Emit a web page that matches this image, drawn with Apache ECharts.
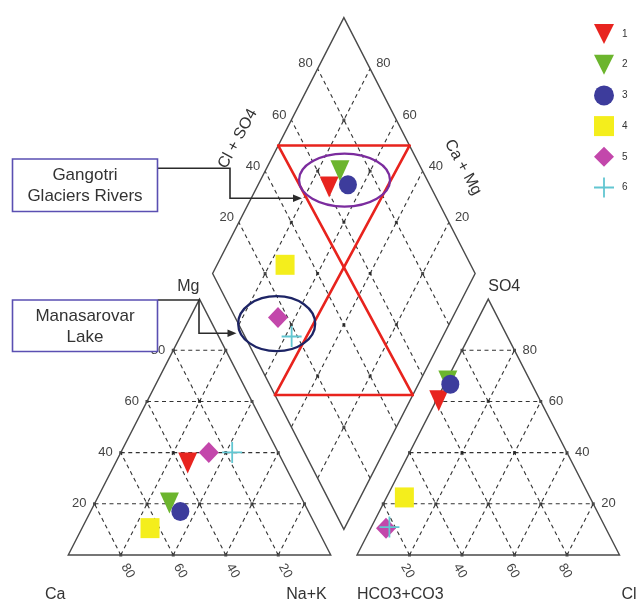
<!DOCTYPE html>
<html>
<head>
<meta charset="utf-8">
<script src="https://cdn.jsdelivr.net/npm/echarts@6/dist/echarts.min.js"></script>
<style>
  html, body { margin: 0; padding: 0; background: #fff; }
  #chart { width: 636px; height: 601px; }
</style>
</head>
<body>
<div id="chart"></div>
<script>
// ---- Sample data (meq % of cations and anions) ----
const samples = ['1', '2', '3', '4', '5', '6'];
const caPct   = [36.5, 51.3, 48.8, 63.6, 26.4, 17.5];
const mgPct   = [36.0, 20.3, 17.0, 10.5, 40.1, 40.1];
const nakPct  = [27.5, 28.4, 34.2, 25.9, 33.5, 42.4];
const hco3Pct = [38.7, 31.4, 31.1, 70.7, 83.7, 82.2];
const so4Pct  = [60.3, 68.0, 66.7, 22.5, 10.5, 10.9];
const clPct   = [1.0, 0.6, 2.2, 6.8, 5.8, 6.9];

// Grid tick values shared by all three plots
const tickValues = [20, 40, 60, 80];

// Hydrochemical facies outline in the diamond, as [Ca+Mg, Cl+SO4] pairs
const faciesSegments = [
  [[100, 50], [50, 100]],
  [[100, 50], [0, 52.5]],
  [[50, 100], [52.5, 0]],
  [[52.5, 0], [0, 52.5]]
];
// Grouping ellipses, centred on [Ca+Mg, Cl+SO4]
const groupCentres = [[68, 68.5], [65.8, 14.6]];

// ---- Piper geometry ----
const SIDE = 100, GAP = 10, H = SIDE * Math.sqrt(3) / 2;
function cationXY(ca, mg, nak) { return [(nak + mg / 2) * SIDE / 100, mg * H / 100]; }
function anionXY(hco3, so4, cl) { return [SIDE + GAP + (cl + so4 / 2) * SIDE / 100, so4 * H / 100]; }
function diamondXY(u, v) { // u = Ca+Mg, v = Cl+SO4
  return [SIDE + GAP / 2 + (v - u) / 2 * SIDE / 100, GAP / 2 * Math.sqrt(3) + (u + v) * H / 100];
}

// Grid lines
const gridSegs = [];
tickValues.forEach(t => {
  gridSegs.push([cationXY(100 - t, t, 0), cationXY(0, t, 100 - t)]);
  gridSegs.push([cationXY(100 - t, 0, t), cationXY(0, 100 - t, t)]);
  gridSegs.push([cationXY(t, 0, 100 - t), cationXY(t, 100 - t, 0)]);
  gridSegs.push([anionXY(100 - t, t, 0), anionXY(0, t, 100 - t)]);
  gridSegs.push([anionXY(100 - t, 0, t), anionXY(0, 100 - t, t)]);
  gridSegs.push([anionXY(t, 0, 100 - t), anionXY(t, 100 - t, 0)]);
  gridSegs.push([diamondXY(t, 0), diamondXY(t, 100)]);
  gridSegs.push([diamondXY(0, t), diamondXY(100, t)]);
});

// Junction dots where grid lines meet
const dots = [];
const steps = [0, 20, 40, 60, 80, 100];
steps.forEach(a => steps.forEach(b => {
  const c = 100 - a - b;
  if (c < 0) return;
  const onCorner = (a === 100 || b === 100 || c === 100);
  if (onCorner) return;
  dots.push(cationXY(a, b, c));
  dots.push(anionXY(a, b, c));
}));
tickValues.forEach(a => tickValues.forEach(b => dots.push(diamondXY(a, b))));

// Outlines
const outlines = [
  [cationXY(100, 0, 0), cationXY(0, 0, 100), cationXY(0, 100, 0)],
  [anionXY(100, 0, 0), anionXY(0, 0, 100), anionXY(0, 100, 0)],
  [diamondXY(0, 0), diamondXY(100, 0), diamondXY(100, 100), diamondXY(0, 100)]
];

// Text labels anchored on the diagram
const FONT = '"Liberation Sans", Arial, sans-serif';
const labels = [];
const R60 = Math.PI / 3;
tickValues.forEach(t => {
  labels.push({ at: cationXY(100 - t, t, 0), text: String(t), dx: -8, dy: 0, align: 'right' });
  labels.push({ at: cationXY(t, 0, 100 - t), text: String(t), dx: 7, dy: 16, align: 'center', rot: -R60 });
  labels.push({ at: anionXY(100 - t, 0, t), text: String(t), dx: -2, dy: 16, align: 'center', rot: -R60 });
  labels.push({ at: anionXY(0, t, 100 - t), text: String(t), dx: 8, dy: 0, align: 'left' });
  labels.push({ at: diamondXY(100, t), text: String(t), dx: -5, dy: -5, align: 'right' });
  labels.push({ at: diamondXY(t, 100), text: String(t), dx: 6, dy: -5, align: 'left' });
});
const titles = [
  { at: cationXY(0, 100, 0), text: 'Mg', dx: 0, dy: -13, align: 'right' },
  { at: anionXY(0, 100, 0), text: 'SO4', dx: 0, dy: -13, align: 'left' },
  { at: cationXY(100, 0, 0), text: 'Ca', dx: -13, dy: 40, align: 'center' },
  { at: cationXY(0, 0, 100), text: 'Na+K', dx: -4, dy: 40, align: 'right' },
  { at: anionXY(100, 0, 0), text: 'HCO3+CO3', dx: 0, dy: 40, align: 'left' },
  { at: anionXY(0, 0, 100), text: 'Cl', dx: 2, dy: 40, align: 'left' },
  { at: diamondXY(100, 55), text: 'Cl + SO4', dx: -47, dy: 6, align: 'center', rot: 1.07 },
  { at: diamondXY(45, 100), text: 'Ca + Mg', dx: 47, dy: 9, align: 'center', rot: -1.07 }
];
titles.forEach(t => { t.size = 16; t.color = '#333'; });
labels.forEach(t => { t.size = 13; t.color = '#444'; });
const allLabels = labels.concat(titles);

// Marker styling per sample
const TRI_DOWN = 'path://M0,0L10,0L5,10Z';
const PLUS = 'path://M4.55,0H5.45V4.55H10V5.45H5.45V10H4.55V5.45H0V4.55H4.55Z';
const symbols = [TRI_DOWN, TRI_DOWN, 'circle', 'rect', 'diamond', PLUS];
const sizes = [[19, 21], [19, 21], [18, 19], [19, 20], [20, 21], [20, 21]];
const colors = ['#e8241f', '#6cb52e', '#3d3c9c', '#f4ee1c', '#c347ab', '#62c6d1'];

const sampleSeries = samples.map((name, i) => ({
  name: name,
  type: 'scatter',
  symbol: symbols[i],
  symbolSize: sizes[i],
  itemStyle: { color: colors[i], opacity: 1 },
  z: 10,
  silent: true,
  data: [
    cationXY(caPct[i], mgPct[i], nakPct[i]),
    anionXY(hco3Pct[i], so4Pct[i], clPct[i]),
    diamondXY(caPct[i] + mgPct[i], so4Pct[i] + clPct[i])
  ]
}));

function segmentSeries(segs, style, z) {
  return {
    type: 'custom', silent: true, z: z,
    data: segs.map(s => [s[0][0], s[0][1], s[1][0], s[1][1]]),
    encode: { x: [0, 2], y: [1, 3] },
    renderItem: function (params, api) {
      const a = api.coord([api.value(0), api.value(1)]);
      const b = api.coord([api.value(2), api.value(3)]);
      return { type: 'line', shape: { x1: a[0], y1: a[1], x2: b[0], y2: b[1] }, style: style };
    }
  };
}

const chart = echarts.init(document.getElementById('chart'), null, { renderer: 'canvas' });
chart.setOption({
  animation: false,
  backgroundColor: '#ffffff',
  grid: { left: 0, top: 8.33, width: 635.25, height: 591 },
  xAxis: { type: 'value', min: -26, max: 216, show: false },
  yAxis: { type: 'value', min: -15, max: 185, show: false },
  legend: {
    orient: 'vertical', left: 589, top: 19,
    itemWidth: 20, itemHeight: 20, itemGap: 10.7,
    selectedMode: false,
    textStyle: { fontSize: 10, color: '#333', fontFamily: FONT, padding: [0, 0, 0, 3] },
    data: samples.map((s, i) => ({ name: s, icon: symbols[i] }))
  },
  series: [
    segmentSeries(gridSegs, { stroke: '#333', lineWidth: 1.1, lineDash: [4, 3.5] }, 1),
    {
      type: 'scatter', silent: true, z: 2, symbol: 'rect', symbolSize: 3,
      itemStyle: { color: '#222' }, data: dots
    },
    {
      type: 'custom', silent: true, z: 3,
      data: outlines.map(o => o[0]),
      renderItem: function (params, api) {
        const pts = outlines[params.dataIndex].map(p => api.coord(p));
        return { type: 'polygon', shape: { points: pts }, style: { fill: 'none', stroke: '#4a4a4a', lineWidth: 1.4 } };
      }
    },
    segmentSeries(faciesSegments.map(s => [diamondXY(s[0][0], s[0][1]), diamondXY(s[1][0], s[1][1])]),
      { stroke: '#e8231d', lineWidth: 2.6, lineCap: 'round' }, 4),
    {
      type: 'custom', silent: true, z: 5,
      data: groupCentres.map(c => diamondXY(c[0], c[1])),
      renderItem: function (params, api) {
        const p = api.coord([api.value(0), api.value(1)]);
        const st = [
          { rx: 45.5, ry: 26.5, stroke: '#7b2c9e' },
          { rx: 38.5, ry: 27.5, stroke: '#1d2465' }
        ][params.dataIndex];
        return { type: 'ellipse', shape: { cx: p[0], cy: p[1], rx: st.rx, ry: st.ry },
          style: { fill: 'none', stroke: st.stroke, lineWidth: 2.3 } };
      }
    },
    {
      type: 'custom', silent: true, z: 6,
      data: allLabels.map(l => l.at),
      renderItem: function (params, api) {
        const d = allLabels[params.dataIndex];
        const p = api.coord(d.at);
        return {
          type: 'text', x: p[0] + d.dx, y: p[1] + d.dy, rotation: d.rot || 0,
          style: { text: d.text, fill: d.color, fontSize: d.size, fontFamily: FONT,
            align: d.align, verticalAlign: 'middle' }
        };
      }
    }
  ].concat(sampleSeries),
  graphic: [
    // Callout: Gangotri
    { type: 'polyline', z: 50, shape: { points: [[157.7, 168.3], [230, 168.3], [230, 198.3], [295, 198.3]] },
      style: { fill: 'none', stroke: '#2b2b2b', lineWidth: 1.6 } },
    { type: 'polygon', z: 50, shape: { points: [[302, 198.3], [293, 194.5], [293, 202.1]] },
      style: { fill: '#2b2b2b' } },
    { type: 'rect', z: 60, shape: { x: 12.5, y: 159, width: 145, height: 52.5 },
      style: { fill: '#ffffff', stroke: '#5a4fb2', lineWidth: 1.6 } },
    { type: 'text', z: 61, x: 85, y: 175.5,
      style: { text: 'Gangotri', fill: '#333', fontSize: 17, fontFamily: FONT, align: 'center', verticalAlign: 'middle' } },
    { type: 'text', z: 61, x: 85, y: 196.5,
      style: { text: 'Glaciers Rivers', fill: '#333', fontSize: 17, fontFamily: FONT, align: 'center', verticalAlign: 'middle' } },
    // Callout: Manasarovar
    { type: 'polyline', z: 50, shape: { points: [[157.7, 300], [199, 300], [199, 333.3], [229, 333.3]] },
      style: { fill: 'none', stroke: '#2b2b2b', lineWidth: 1.6 } },
    { type: 'polygon', z: 50, shape: { points: [[236.5, 333.3], [227.5, 329.5], [227.5, 337.1]] },
      style: { fill: '#2b2b2b' } },
    { type: 'rect', z: 60, shape: { x: 12.5, y: 300, width: 145, height: 51.5 },
      style: { fill: '#ffffff', stroke: '#5a4fb2', lineWidth: 1.6 } },
    { type: 'text', z: 61, x: 85, y: 316.7,
      style: { text: 'Manasarovar', fill: '#333', fontSize: 17, fontFamily: FONT, align: 'center', verticalAlign: 'middle' } },
    { type: 'text', z: 61, x: 85, y: 337,
      style: { text: 'Lake', fill: '#333', fontSize: 17, fontFamily: FONT, align: 'center', verticalAlign: 'middle' } }
  ]
});
</script>
</body>
</html>
